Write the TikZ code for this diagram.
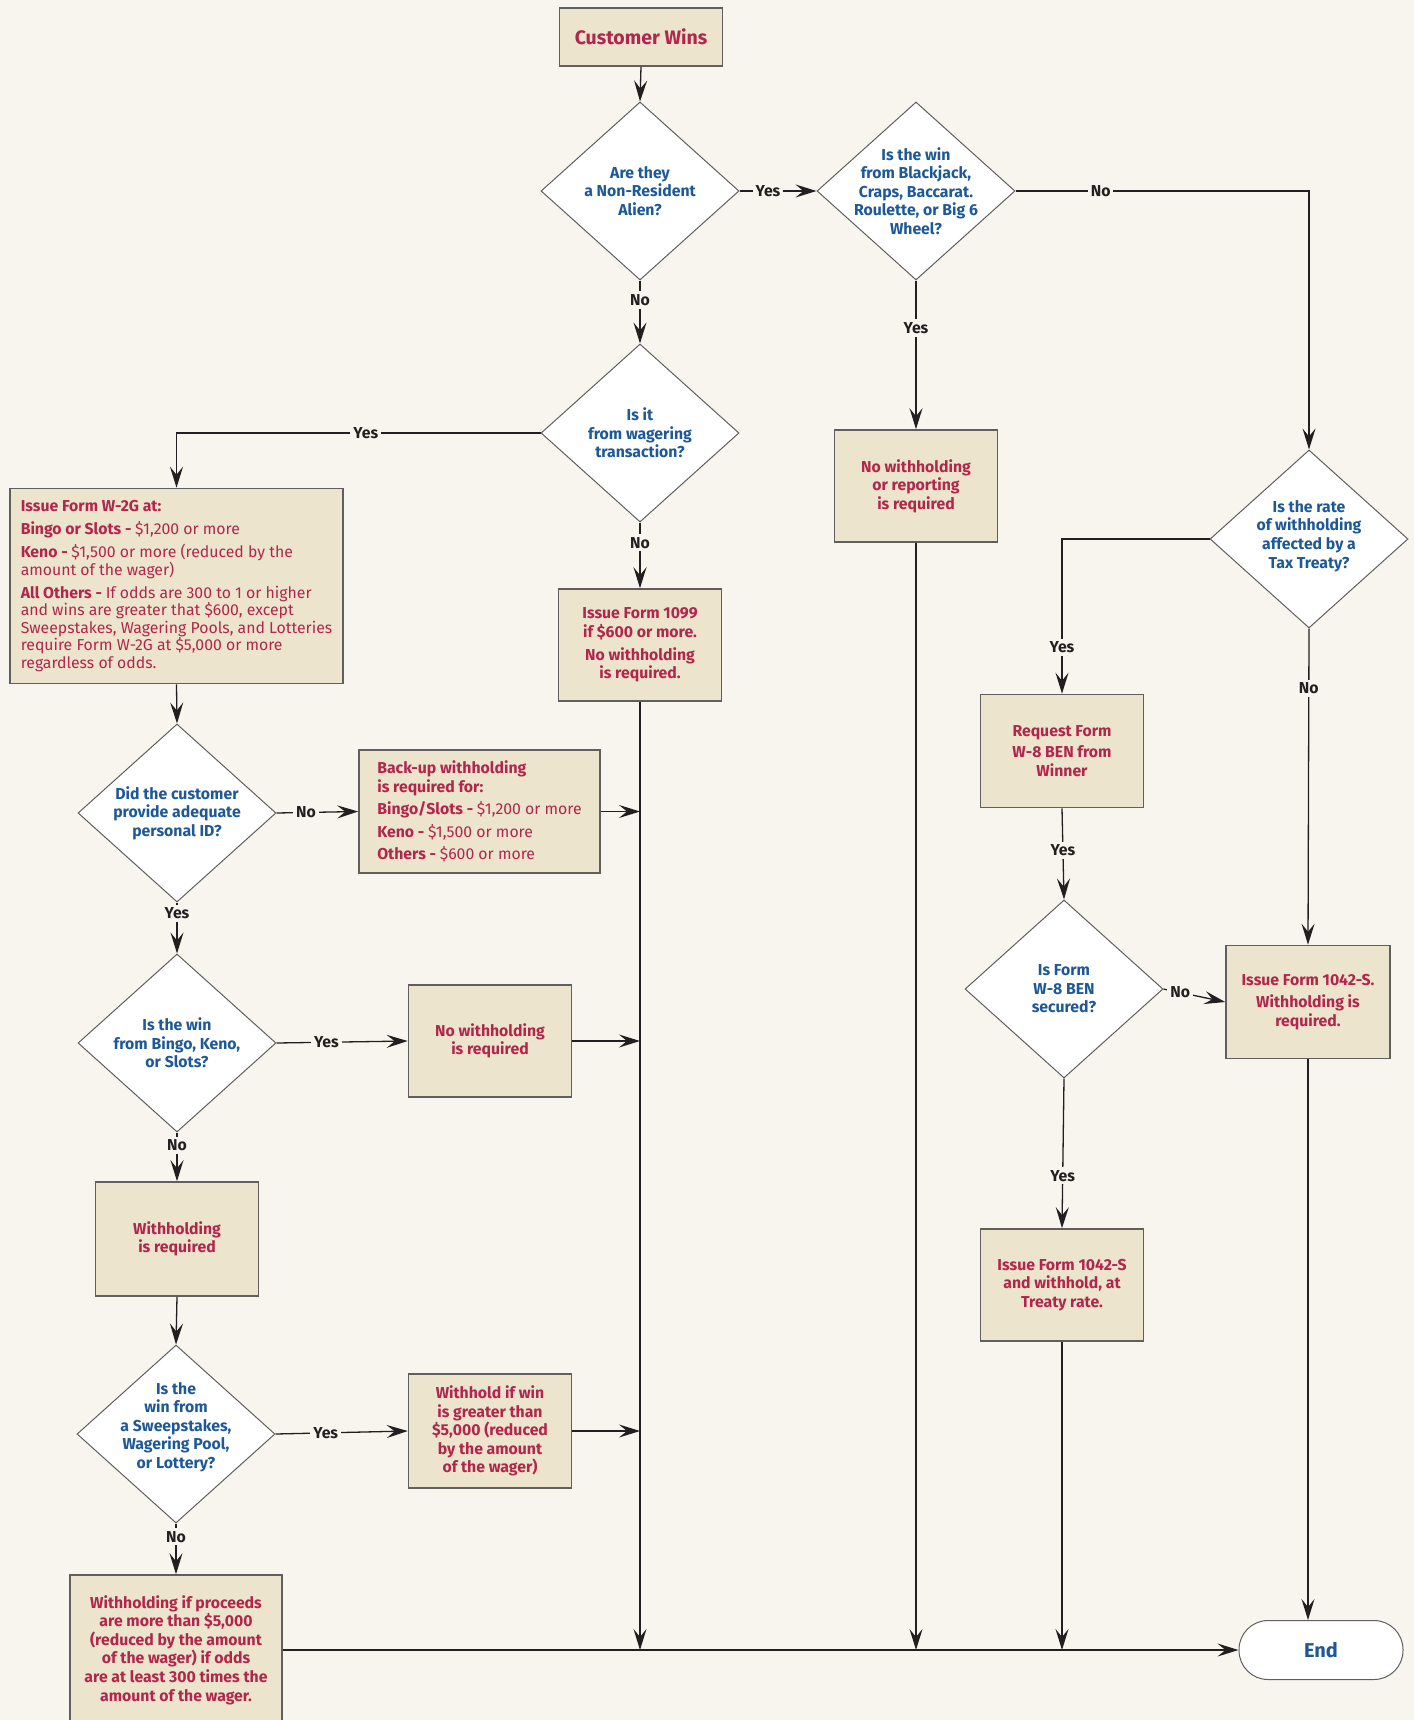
\documentclass[tikz,border=0pt]{standalone}
\usepackage{fontspec}
\setmainfont{Fira Sans}
\usetikzlibrary{shapes.geometric,arrows.meta}

\definecolor{bgcream}{HTML}{F8F5EE}
\definecolor{boxfill}{HTML}{EDE4CE}
\definecolor{txtred}{HTML}{B1264B}
\definecolor{txtblue}{HTML}{1D5897}
\definecolor{edgegray}{HTML}{5F5F5F}
\definecolor{linedark}{HTML}{231F20}

\newcommand{\flowfont}{\fontsize{15.8}{18.6}\selectfont}

\tikzset{
  box/.style={draw=edgegray, line width=1.6pt, fill=boxfill, text=txtred,
    font=\flowfont\bfseries, align=center, inner sep=0pt,
    minimum width=163pt, minimum height=112pt},
  decision/.style={diamond, draw=edgegray, line width=1pt, fill=white,
    inner sep=0pt, minimum width=198pt, minimum height=178pt},
  qtext/.style={text=txtblue, font=\flowfont\bfseries, align=center},
  lbl/.style={fill=bgcream, text=linedark, font=\flowfont\bfseries, inner sep=3pt},
  line/.style={draw=linedark, line width=1.3pt},
  flow/.style={line, -{Stealth[length=21pt,width=13pt,inset=8pt]}}
}

\begin{document}
\begin{tikzpicture}[x=1pt,y=-1pt]
\fill[bgcream] (0,0) rectangle (1414,1720);
\useasboundingbox (0,0) rectangle (1414,1720);

% main column
\node[box, minimum height=58pt, font=\fontsize{19.5}{22}\selectfont\bfseries] (cw) at (641,37) {Customer Wins};
\node[decision, label={[qtext]center:{Are they\\ a Non-Resident\\ Alien?}}] (d1) at (640,191) {};
\node[decision, label={[qtext]center:{Is the win\\ from Blackjack,\\ Craps, Baccarat.\\ Roulette, or Big 6\\ Wheel?}}] (d2) at (916,191) {};
\node[decision, label={[qtext]center:{Is it\\ from wagering\\ transaction?}}] (d3) at (640,433) {};
\node[box] (nwr) at (916,486) {No withholding\\ or reporting\\ is required};
\node[box] (f1099) at (640,645) {Issue Form 1099\\ if \$600 or more.\\[4pt] No withholding\\ is required.};

% left column
\node[box, minimum width=333pt, minimum height=195pt, align=left,
  font=\fontsize{15.8}{17.6}\selectfont\bfseries] (w2g) at (176.5,586)
  {Issue Form W-2G at:\\[5.5pt]
   Bingo or Slots - \mdseries\$1,200 or more\\[5.5pt]
   Keno - \mdseries\$1,500 or more (reduced by the\\
   \mdseries amount of the wager)\\[5.5pt]
   All Others - \mdseries If odds are 300 to 1 or higher\\
   \mdseries and wins are greater that \$600, except\\
   \mdseries Sweepstakes, Wagering Pools, and Lotteries\\
   \mdseries require Form W-2G at \$5,000 or more\\
   \mdseries regardless of odds.};
\node[decision, label={[qtext]center:{Did the customer\\ provide adequate\\ personal ID?}}] (did) at (177,813) {};
\node[box, minimum width=241pt, minimum height=123pt, align=left] (backup) at (479.5,811.5)
  {Back-up withholding\\ is required for:\\[4pt]
   Bingo/Slots - \mdseries\$1,200 or more\\[4pt]
   Keno - \mdseries\$1,500 or more\\[4pt]
   Others - \mdseries\$600 or more};
\node[decision, label={[qtext]center:{Is the win\\ from Bingo, Keno,\\ or Slots?}}] (dbingo) at (177,1043) {};
\node[box] (nw2) at (490,1041) {No withholding\\ is required};
\node[box, minimum height=114pt] (wreq) at (177,1239) {Withholding\\ is required};
\node[decision, label={[qtext, yshift=7pt]center:{Is the\\ win from\\ a Sweepstakes,\\ Wagering Pool,\\ or Lottery?}}] (dsweep) at (176,1434) {};
\node[box, minimum height=114pt] (whwin) at (490,1431) {Withhold if win\\ is greater than\\ \$5,000 (reduced\\ by the amount\\ of the wager)};
\node[box, minimum width=212pt, minimum height=150pt] (last) at (176,1650)
  {Withholding if proceeds\\ are more than \$5,000\\ (reduced by the amount\\ of the wager) if odds\\ are at least 300 times the\\ amount of the wager.};

% right columns
\node[decision, label={[qtext, yshift=3pt]center:{Is the rate\\ of withholding\\ affected by a\\ Tax Treaty?}}] (dtax) at (1309,539) {};
\node[box, minimum height=113pt] (req) at (1062,751) {Request Form\\[3pt] W-8 BEN from\\ Winner};
\node[decision, label={[qtext]center:{Is Form\\ W-8 BEN\\ secured?}}] (dw8) at (1064,989) {};
\node[box, minimum width=164pt, minimum height=113pt] (f1042) at (1308,1002) {Issue Form 1042-S.\\[4pt] Withholding is\\ required.};
\node[box] (f1042w) at (1062,1285) {Issue Form 1042-S\\ and withhold, at\\ Treaty rate.};
\node[draw=edgegray, line width=1pt, fill=white, rounded corners=29pt,
  minimum width=164pt, minimum height=59pt, text=txtblue,
  font=\fontsize{20}{22}\selectfont\bfseries] (end) at (1321,1650) {End};

% connectors
\draw[flow] (cw.south) -- (d1.north);
\draw[flow] (d1.east) -- node[lbl, pos=0.37] {Yes} (d2.west);
\draw[flow] (d1.south) -- node[lbl, pos=0.31] {No} (d3.north);
\draw[flow] (d2.east) -- node[lbl, pos=0.29] {No} (d2 -| dtax) -- (dtax.north);
\draw[flow] (d2.south) -- node[lbl, pos=0.32] {Yes} (nwr.north);
\draw[flow] (d3.west) -- node[lbl, pos=0.48] {Yes} (d3 -| w2g) -- (w2g.north);
\draw[flow] (d3.south) -- node[lbl, pos=0.31] {No} (f1099.north);
\draw[flow] (w2g.south) -- (did.north);
\draw[flow] (did.east) -- node[lbl, pos=0.36] {No} (backup.west);
\draw[flow] (did.south) -- node[lbl, pos=0.21] {Yes} (dbingo.north);
\draw[flow] (dbingo.east) -- node[lbl, pos=0.38] {Yes} (nw2.west);
\draw[flow] (dbingo.south) -- node[lbl, pos=0.26] {No} (wreq.north);
\draw[flow] (wreq.south) -- (dsweep.north);
\draw[flow] (dsweep.east) -- node[lbl, pos=0.38] {Yes} (whwin.west);
\draw[flow] (dsweep.south) -- node[lbl, pos=0.26] {No} (last.north);

\draw[flow] (backup.east) -- (backup.east -| f1099);
\draw[flow] (nw2.east) -- (nw2.east -| f1099);
\draw[flow] (whwin.east) -- (whwin.east -| f1099);

\draw[flow] (dtax.west) -- (dtax.west -| req) -- node[lbl, pos=0.70] {Yes} (req.north);
\draw[flow] (dtax.south) -- node[lbl, pos=0.19] {No} (f1042.north);
\draw[flow] (req.south) -- node[lbl, pos=0.46] {Yes} (dw8.north);
\draw[flow] (dw8.east) -- node[lbl, pos=0.27] {No} (f1042.west);
\draw[flow] (dw8.south) -- node[lbl, pos=0.65] {Yes} (f1042w.north);

% to the end
\draw[flow] (f1099.south) -- (f1099.south |- end.west);
\draw[flow] (nwr.south) -- (nwr.south |- end.west);
\draw[flow] (f1042w.south) -- (f1042w.south |- end.west);
\draw[flow] (f1042.south) -- (f1042.south |- end.north);
\draw[flow] (last.east |- end.west) -- (end.west);
\end{tikzpicture}
\end{document}
